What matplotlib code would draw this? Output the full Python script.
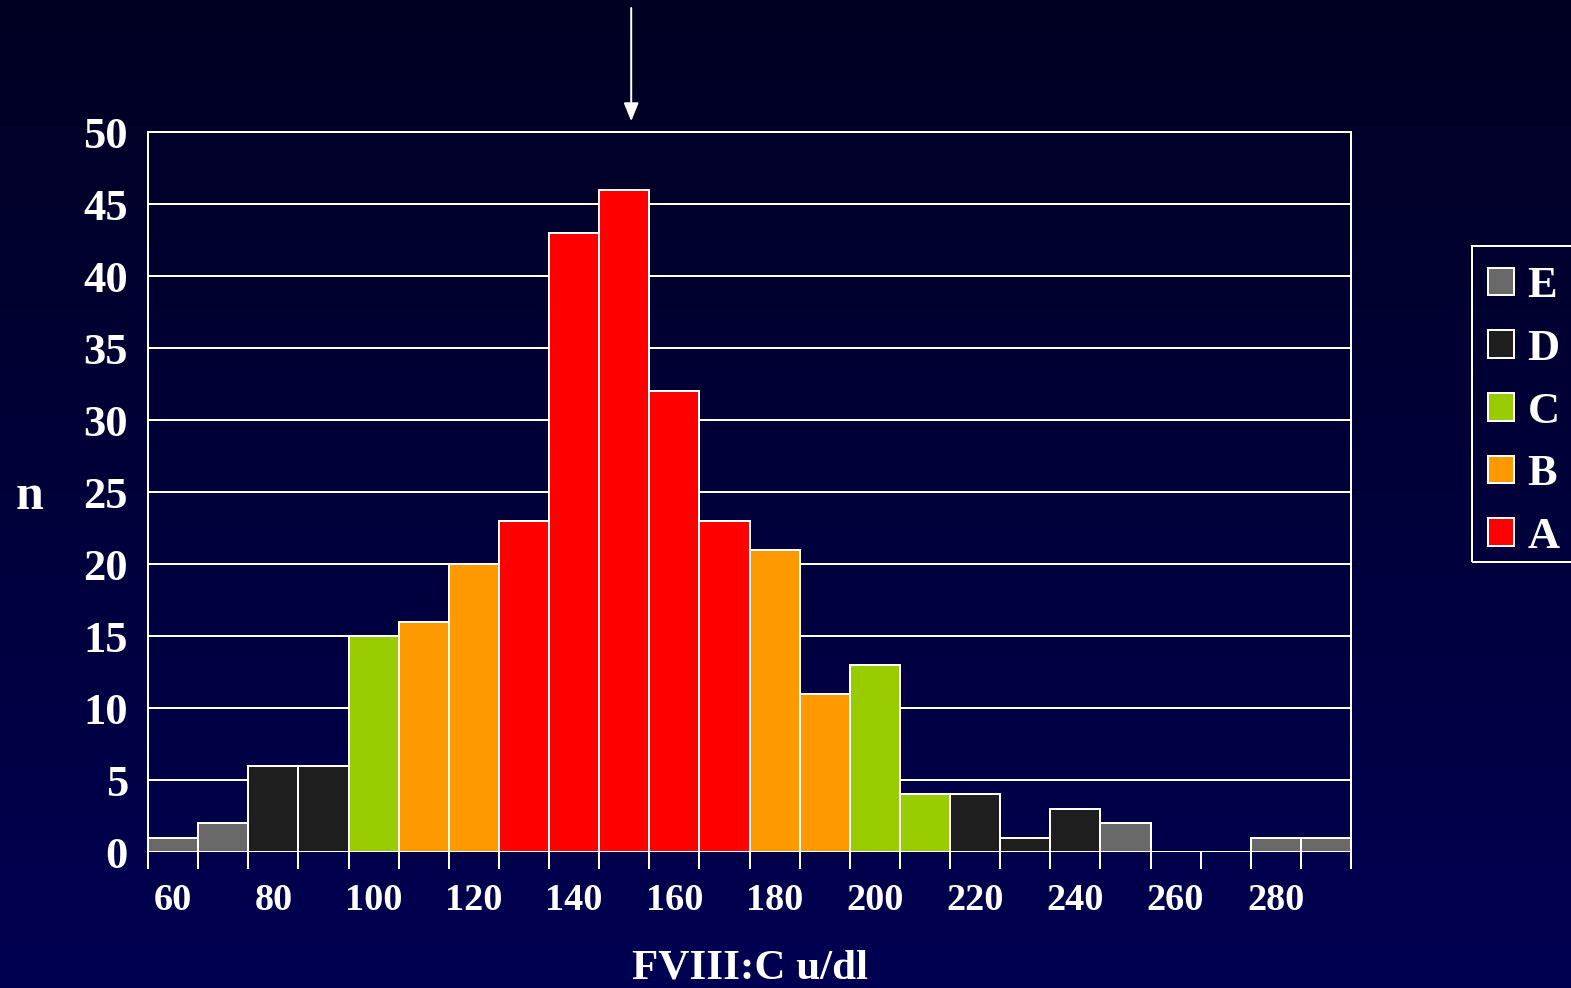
import numpy as np
import matplotlib
matplotlib.use("Agg")
import matplotlib.pyplot as plt
from matplotlib.patches import Patch, Rectangle

# FVIII:C histogram, 10 u/dl bins
bin_centers = [60, 70, 80, 90, 100, 110, 120, 130, 140, 150, 160, 170,
               180, 190, 200, 210, 220, 230, 240, 250, 260, 270, 280, 290]
counts = [1, 2, 6, 6, 15, 16, 20, 23, 43, 46, 32, 23,
          21, 11, 13, 4, 4, 1, 3, 2, 0, 0, 1, 1]
groups = ["E", "E", "D", "D", "C", "B", "B", "A", "A", "A", "A", "A",
          "B", "B", "C", "C", "D", "D", "D", "E", "E", "E", "E", "E"]
group_colors = {"A": "#ff0000", "B": "#ff9900", "C": "#99cc00",
                "D": "#1e1e1e", "E": "#696969"}
legend_order = ["E", "D", "C", "B", "A"]
x_labels = [60, 80, 100, 120, 140, 160, 180, 200, 220, 240, 260, 280]
y_ticks = [0, 5, 10, 15, 20, 25, 30, 35, 40, 45, 50]
arrow_x = 151.4
bin_width = 10

font = "Liberation Serif"
W, H = 1571, 988
fig = plt.figure(figsize=(W / 100, H / 100), dpi=100)

# vertical navy gradient behind everything
bg = fig.add_axes([0, 0, 1, 1], zorder=-10)
grad = np.linspace(0, 1, 256).reshape(-1, 1)
top = np.array([0, 0, 34]) / 255
bot = np.array([0, 0, 82]) / 255
img = top[None, None, :] * (1 - grad[:, :, None]) + bot[None, None, :] * grad[:, :, None]
bg.imshow(img, aspect="auto", extent=[0, 1, 0, 1], origin="upper")
bg.set_axis_off()

ax_left, ax_right, ax_top, ax_bottom = 148, 1351, 132, 852
ax = fig.add_axes([ax_left / W, 1 - ax_bottom / H,
                   (ax_right - ax_left) / W, (ax_bottom - ax_top) / H])
ax.patch.set_alpha(0)

lw = 2.0 * 72 / 100
for y in y_ticks:
    ax.axhline(y, color="white", lw=lw, zorder=1)

colors = [group_colors[g] for g in groups]
ax.bar(bin_centers, counts, width=bin_width, color=colors, edgecolor="white",
       linewidth=lw, zorder=2)

ax.set_xlim(bin_centers[0] - bin_width / 2, bin_centers[-1] + bin_width / 2)
ax.set_ylim(0, 50)

for side in ["left", "right", "top"]:
    ax.spines[side].set_color("white")
    ax.spines[side].set_linewidth(lw)
ax.spines["bottom"].set_visible(False)

# tick marks at bin edges, labels at every other bin centre
edges = [c - bin_width / 2 for c in bin_centers] + [bin_centers[-1] + bin_width / 2]
ax.set_xticks(edges, minor=True)
ax.tick_params(axis="x", which="minor", length=12, width=lw, color="white",
               direction="out")
ax.set_xticks(x_labels)
ax.set_xticklabels([str(v) for v in x_labels], fontfamily=font,
                   fontweight="bold", fontsize=27.5, color="white")
ax.tick_params(axis="x", which="major", length=0, pad=22)

ax.set_yticks(y_ticks)
ax.set_yticklabels([str(v) for v in y_ticks], fontfamily=font,
                   fontweight="bold", fontsize=32, color="white")
ax.tick_params(axis="y", length=0, pad=14.5)

fig.text(30 / W, 1 - 497 / H, "n", fontfamily=font, fontweight="bold",
         fontsize=36, color="white", ha="center", va="center")
fig.text(750 / W, 1 - 968 / H, "FVIII:C u/dl", fontfamily=font,
         fontweight="bold", fontsize=31, color="white", ha="center",
         va="center")

# arrow marking the mean
ax.annotate("", xy=(arrow_x, 50.75), xycoords="data",
            xytext=(arrow_x, 1 - 8 / H), textcoords=("data", "figure fraction"),
            arrowprops=dict(arrowstyle="-|>,head_length=1.1,head_width=0.45",
                            color="white", lw=lw, shrinkA=0, shrinkB=0),
            annotation_clip=False)

# legend box runs past the right edge of the figure
fig.patches.append(Rectangle((1472 / W, 1 - 562 / H), 140 / W, 316 / H,
                             transform=fig.transFigure, facecolor="none",
                             edgecolor="white", linewidth=lw))
handles = [Patch(facecolor=group_colors[g], edgecolor="white", linewidth=lw)
           for g in legend_order]
leg = fig.legend(handles, legend_order, loc="upper left",
                 bbox_to_anchor=(1475 / W, 1 - 253 / H), borderaxespad=0,
                 prop={"family": font, "weight": "bold", "size": 32},
                 frameon=False, handlelength=0.58,
                 handleheight=0.58, handletextpad=0.3, labelspacing=0.51,
                 borderpad=0.3, labelcolor="white")

fig.savefig("out.png", dpi=100)
